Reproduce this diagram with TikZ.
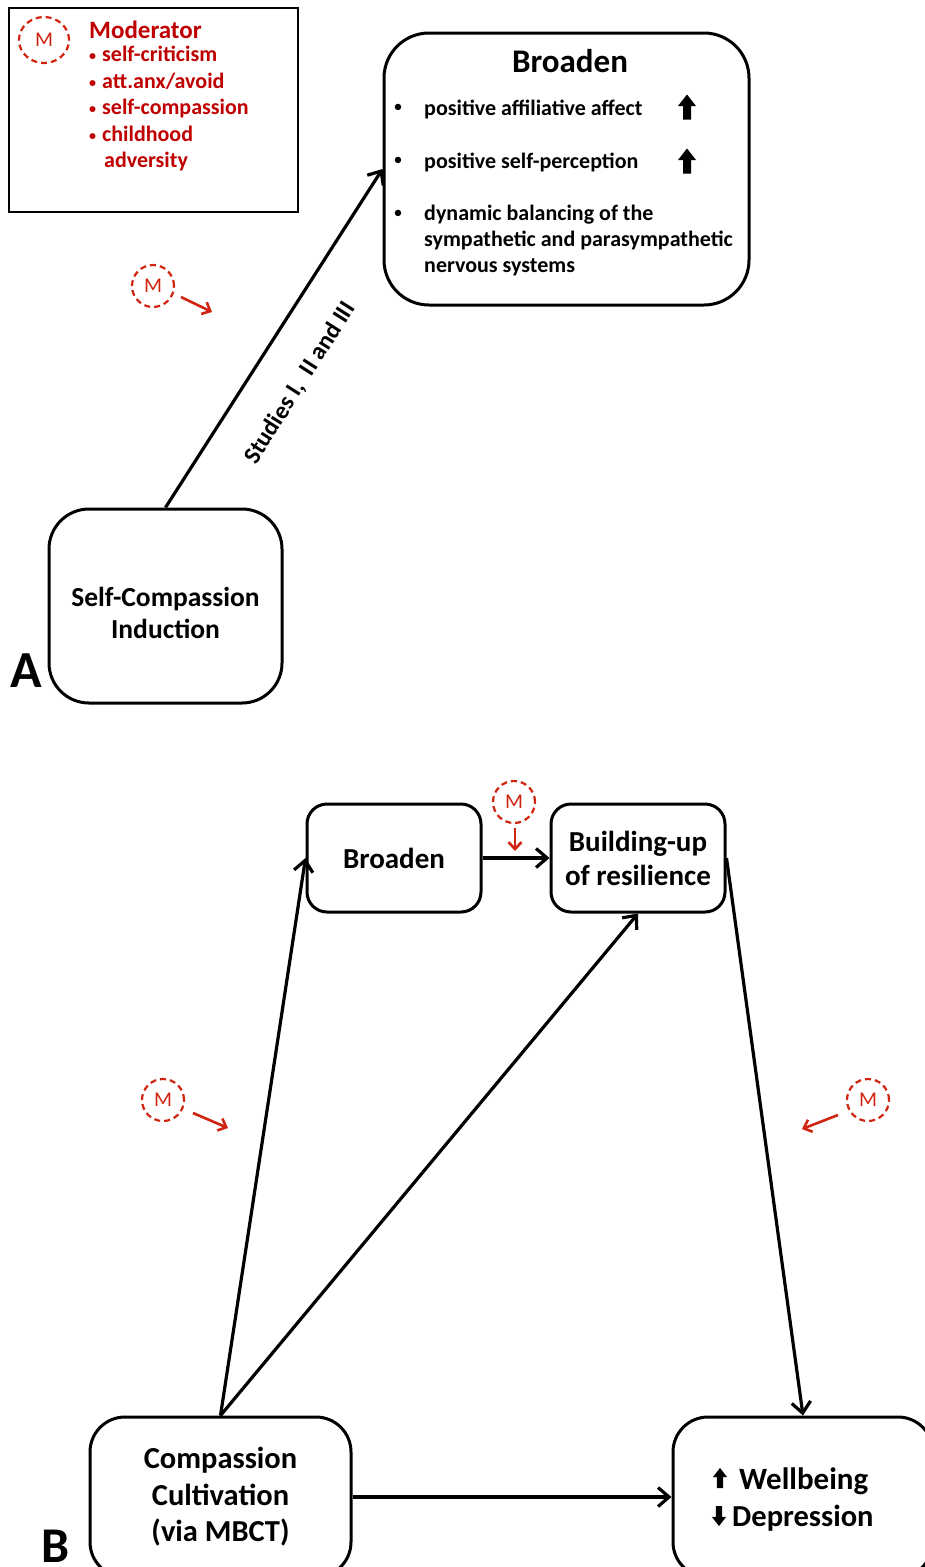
\documentclass[tikz,border=0pt]{standalone}
\usepackage{fontspec}
\setmainfont{Carlito}
\usetikzlibrary{arrows.meta,positioning,calc,shapes.geometric}
\definecolor{modtext}{RGB}{192,0,0}
\definecolor{modline}{RGB}{208,36,16}
\newcommand{\fsz}[2]{\fontsize{#1}{#2}\selectfont}
\newcommand{\modbul}{\makebox[13pt][l]{\raisebox{1pt}{\fsz{14}{14}•}}}

\tikzset{
  box/.style={draw, line width=3pt, rounded corners=#1, align=center, inner sep=0pt, font=\bfseries},
  box/.default=20pt,
  modc/.style={ellipse, draw=modline, dash pattern=on 6pt off 4pt, line width=2.2pt, minimum width=42pt, minimum height=42pt, inner sep=0pt, text=modline, font=\fsz{21}{21}},
  modarr/.style={draw=modline, line width=2.6pt, -{Straight Barb[length=7pt,width=13pt]}},
  link/.style={line width=3.2pt, -{Straight Barb[length=11pt,width=19pt]}},
  blockarrow/.pic={\fill (0,-12.5) -- (9,-1) -- (4,-1) -- (4,12.5) -- (-4,12.5) -- (-4,-1) -- (-9,-1) -- cycle;}
}

\begin{document}
\begin{tikzpicture}[x=1pt,y=-1pt]
\useasboundingbox (0,0) rectangle (925,1567);

% panel A
\node[draw, line width=2.4pt, minimum width=289pt, minimum height=204pt] (modbox) at (153.5,110) {};
\node[modc, minimum width=50pt, minimum height=46pt] (m0) at (44,40) {M};
\node[anchor=west, inner sep=0pt, text=modtext, font=\bfseries\fsz{25}{25}] (modhead) at (89,30) {Moderator};
\node[anchor=north west, align=left, inner sep=0pt, text=modtext, font=\bfseries\fsz{22}{26.5}] (modlist) at (89,46)
  {\modbul self-criticism\\\modbul att.anx/avoid\\\modbul self-compassion\\\modbul childhood\\\hspace*{15pt}adversity};

\node[box=45pt, minimum width=365pt, minimum height=272pt] (brA) at (566.5,169) {};
\node[font=\bfseries\fsz{33}{33}] (brAtitle) at (570,61) {Broaden};
\foreach \y [count=\i] in {108,161,214}
  \node[font=\fsz{18}{18}] (dot\i) at (398,\y) {•};
\node[anchor=west, inner sep=0pt, font=\bfseries\fsz{22}{22}] (it1) at (424,109) {positive affiliative affect};
\node[anchor=west, inner sep=0pt, font=\bfseries\fsz{22}{22}] (it2) at (424,162) {positive self-perception};
\node[anchor=north west, align=left, inner sep=0pt, font=\bfseries\fsz{22}{26}] (it3) at (424,205)
  {dynamic balancing of the\\sympathetic and parasympathetic\\nervous systems};
\pic at (687,107) {blockarrow};
\pic at (687,161) {blockarrow};

\node[box=40pt, minimum width=233pt, minimum height=194pt] (sci) at (165.5,606) {};
\node[align=center, font=\bfseries\fsz{27.5}{32}] (scitxt) at (165.5,613) {Self-Compassion\\Induction};
\draw[link] (sci.north) -- (brA.west);
\node[rotate=57.6, font=\bfseries\fsz{24.5}{24.5}] (studies) at (300,383) {Studies I,\ \ II and III};

\node[modc] (m1) at (153,286) {M};
\coordinate (m1a) at (181,297);
\coordinate (m1b) at (212,312);
\draw[modarr] (m1a) -- (m1b);

\node[anchor=base west, inner sep=0pt, font=\bfseries\fsz{52}{52}] (labA) at (10,687) {A};

% panel B
\node[box=20pt, minimum width=174pt, minimum height=108pt, font=\bfseries\fsz{29}{34}] (brB) at (394,858) {Broaden};
\node[box=20pt, minimum width=174pt, minimum height=108pt, font=\bfseries\fsz{29}{34}] (build) at (638,858) {Building-up\\of resilience};
\node[box=35pt, minimum width=261pt, minimum height=160pt, font=\bfseries\fsz{30.5}{36.5}] (cc) at (220.5,1497) {Compassion\\Cultivation\\(via MBCT)};
\node[box=35pt, minimum width=260pt, minimum height=160pt] (wb) at (803,1497) {};
\pic[scale=0.8] at (720,1478) {blockarrow};
\pic[scale=0.8, yscale=-1] at (719,1516) {blockarrow};
\node[anchor=west, inner sep=0pt, font=\bfseries\fsz{31}{31}] (wbtxt) at (739,1481) {Wellbeing};
\node[anchor=west, inner sep=0pt, font=\bfseries\fsz{30.5}{30.5}] (deptxt) at (732,1518) {Depression};

\draw[link] (cc.north) -- (brB.west);
\draw[link] (cc.north) -- (build.south);
\draw[link] (brB.east) -- (build.west);
\draw[link] (build.east) -- (wb.north);
\draw[link] (cc.east) -- (wb.west);

\node[modc] (m2) at (514,802) {M};
\coordinate (m2a) at (515,828);
\coordinate (m2b) at (515,851);
\draw[modarr] (m2a) -- (m2b);
\node[modc] (m3) at (163,1100) {M};
\coordinate (m3a) at (193,1113);
\coordinate (m3b) at (228,1128);
\draw[modarr] (m3a) -- (m3b);
\node[modc] (m4) at (868,1100) {M};
\coordinate (m4a) at (838,1115);
\coordinate (m4b) at (802,1129);
\draw[modarr] (m4a) -- (m4b);

\node[anchor=base west, inner sep=0pt, font=\bfseries\fsz{50}{50}] (labB) at (41,1562) {B};
\end{tikzpicture}
\end{document}
